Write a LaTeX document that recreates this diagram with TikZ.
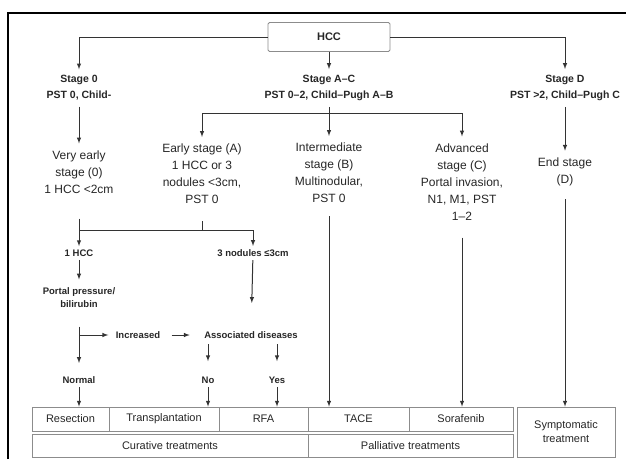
\documentclass[tikz,border=0pt]{standalone}
\usepackage{fontspec}
\setmainfont{Liberation Sans}
\definecolor{linec}{gray}{0.2}
\definecolor{boxc}{gray}{0.55}
\definecolor{textc}{gray}{0.15}
\begin{document}
\begin{tikzpicture}[x=1pt, y=-1pt, >=latex, text=textc,
    line/.style={draw=linec, line width=1pt},
    arr/.style={line, ->},
    head/.style={font=\fontsize{10.5}{16}\selectfont\bfseries, align=center, inner sep=6pt},
    stagebox/.style={font=\fontsize{12}{17}\selectfont, align=center, inner sep=7pt},
    lbl/.style={font=\fontsize{9.5}{13}\selectfont\bfseries, align=center},
    tbox/.style={draw=boxc, line width=0.8pt, font=\fontsize{11}{14}\selectfont, align=center, inner sep=1pt}]
    \useasboundingbox (0,0) rectangle (626,459);
    \draw[line width=1.3pt] (8,459) -- (8,13) -- (626,13);

    % top of the chart
    \node[draw=boxc, rounded corners=1.5pt, line width=0.8pt, minimum width=122pt, minimum height=29pt,
        font=\fontsize{11}{13}\selectfont\bfseries] (hcc) at (329,37) {HCC};
    \node[head] (st0) at (79,88) {Stage 0\\PST 0, Child-};
    \node[head] (stac) at (329,88) {Stage A--C\\PST 0--2, Child--Pugh A--B};
    \node[head] (std) at (565,88) {Stage D\\PST >2, Child--Pugh C};
    \draw[arr] (hcc.west) -| (st0.north);
    \draw[arr] (hcc.east) -| (std.north);
    \draw[arr] (hcc.south) -- (stac.north);

    % stages
    \node[stagebox] (v0) at (79,172) {Very early\\stage (0)\\1 HCC <2cm};
    \node[stagebox] (ea) at (202,174) {Early stage (A)\\1 HCC or 3\\nodules <3cm,\\PST 0};
    \node[stagebox] (ib) at (329,173) {Intermediate\\stage (B)\\Multinodular,\\PST 0};
    \node[stagebox] (ac) at (462,182) {Advanced\\stage (C)\\Portal invasion,\\N1, M1, PST\\1--2};
    \node[stagebox] (ed) at (565,172) {End stage\\(D)};
    \coordinate (acj) at (329,113);
    \draw[arr] (st0.south) -- (v0.north);
    \draw[line] (stac.south) -- (acj);
    \draw[arr] (acj) -| (ea.north);
    \draw[arr] (acj) -| (ac.north);
    \draw[arr] (acj) -- (ib.north);
    \draw[arr] (std.south) -- (ed.north);

    % curative branch
    \node[lbl] (h1) at (79,253) {1 HCC};
    \node[lbl] (n3) at (253,253) {3 nodules ≤3cm};
    \node[lbl] (pp) at (79,298) {Portal pressure/\\bilirubin};
    \node[lbl] (inc) at (138,335) {Increased};
    \node[lbl] (ad) at (251,335) {Associated diseases};
    \node[lbl] (nm) at (79,380) {Normal};
    \node[lbl] (no) at (208,380) {No};
    \node[lbl] (yes) at (277,380) {Yes};
    \coordinate (br) at (202,230);
    \coordinate (pb) at (79,335);
    \draw[line] (h1.north |- br) -- (n3.north |- br);
    \draw[arr, shorten <=18pt] (v0.south) -- (h1.north);
    \draw[line, shorten <=10pt] (ea.south) -- (br);
    \draw[arr] (n3.north |- br) -- (n3.north);
    \draw[arr, shorten >=5pt] (h1) -- (pp);
    \draw[arr, shorten >=25pt] (n3) -- (ad);
    \draw[arr, shorten <=15pt, shorten >=10pt] (pp.south) -- (nm.north);
    \draw[arr, shorten >=4pt] (pb) -- (inc.west);
    \draw[arr, shorten <=8pt, shorten >=11pt] (inc) -- (ad);
    \draw[arr, shorten <=2pt, shorten >=12pt] (ad.south -| no) -- (no.north);
    \draw[arr, shorten <=2pt, shorten >=12pt] (ad.south -| yes) -- (yes.north);

    % treatments
    \foreach \name/\xa/\xb/\txt in {res/32/109/Resection, trp/109/219/Transplantation,
        rfa/219/308/RFA, tace/308/409/TACE, sor/409/513/Sorafenib} {
        \node[tbox, minimum width={\xb-\xa}, minimum height=24pt] (\name) at ({(\xa+\xb)/2},419) {\txt};
    }
    \node[tbox, minimum width=276pt, minimum height=23pt] (cur) at (170,445.5) {Curative treatments};
    \node[tbox, minimum width=205pt, minimum height=23pt] (pal) at (410.5,445.5) {Palliative treatments};
    \node[tbox, minimum width=98pt, minimum height=50pt] (sym) at (566,432) {Symptomatic\\treatment};
    \draw[arr] (nm.south) -- (nm.south |- res.north);
    \draw[arr] (no.south) -- (no.south |- trp.north);
    \draw[arr] (yes.south) -- (yes.south |- rfa.north);
    \draw[arr, shorten <=6pt] (ib.south) -- (ib.south |- tace.north);
    \draw[arr, shorten <=10pt] (ac.south) -- (ac.south |- sor.north);
    \draw[arr, shorten <=6pt] (ed.south) -- (ed.south |- sym.north);
\end{tikzpicture}
\end{document}
